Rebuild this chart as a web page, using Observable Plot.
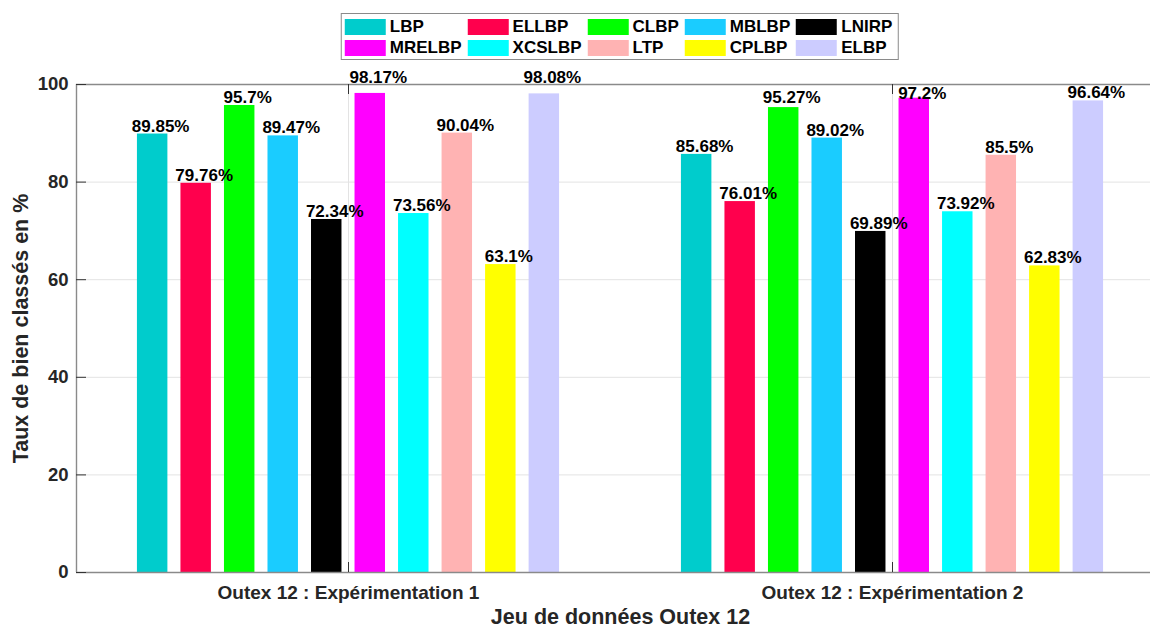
<!DOCTYPE html>
<html>
<head>
<meta charset="utf-8">
<script src="https://cdn.jsdelivr.net/npm/d3@7"></script>
<script src="https://cdn.jsdelivr.net/npm/@observablehq/plot@0.6"></script>
<style>
  html, body { margin: 0; padding: 0; background: #fff; }
  body { width: 1150px; height: 630px; overflow: hidden; font-family: "Liberation Sans", Arial, sans-serif; }
  #wrap { position: relative; width: 1150px; }
  #legendArea { position: relative; height: 66px; }
  #legend {
    position: absolute; left: 620px; top: 13px; transform: translateX(-50%);
    border: 1.5px solid #8a8a8a; background: #fff;
    display: grid; grid-template-columns: repeat(5, auto);
    padding: 4px 0 3px 3px; row-gap: 4px;
  }
  .item { display: flex; align-items: center; padding-right: 6px; height: 17px; }
  .sw { width: 41px; height: 16px; margin-right: 4px; }
  .lab { font-weight: bold; font-size: 17px; color: #000; line-height: 17px; white-space: nowrap; }
</style>
</head>
<body>
<div id="wrap">
  <div id="legendArea"><div id="legend"></div></div>
  <div id="chart"></div>
</div>
<script>
// ---- data ----
const methods = ["LBP", "ELLBP", "CLBP", "MBLBP", "LNIRP", "MRELBP", "XCSLBP", "LTP", "CPLBP", "ELBP"];
const colors = ["#00CCCC", "#FF004D", "#00FF00", "#1ACCFF", "#000000", "#FF00FF", "#00FFFF", "#FFB3B3", "#FFFF00", "#CCCCFF"];
const groups = ["Outex 12 : Expérimentation 1", "Outex 12 : Expérimentation 2"];
const exp1 = [89.85, 79.76, 95.7, 89.47, 72.34, 98.17, 73.56, 90.04, 63.1, 98.08];
const exp2 = [85.68, 76.01, 95.27, 89.02, 69.89, 97.2, 73.92, 85.5, 62.83, 96.64];
const yTicks = [0, 20, 40, 60, 80, 100];
const yLabel = "Taux de bien classés en %";
const xLabel = "Jeu de données Outex 12";

// ---- layout ----
const W = 1150, H = 564;
const marginTop = 18, marginBottom = 58, marginLeft = 76;
const xDomain = [0.5, 2.5];
const xRange = [76, 1164];
const barStep = 0.08, barWidth = 0.056;
const unitPx = (xRange[1] - xRange[0]) / (xDomain[1] - xDomain[0]);
const yPx = (H - marginTop - marginBottom) / 100;
const tickLen = 10;
// extra vertical nudge (px) of a few value labels, as placed in the original figure
const labelNudge = {"0|MRELBP": -8, "0|ELBP": -8, "1|MRELBP": 3, "1|CLBP": -2};

const series = [exp1, exp2];
const rows = [];
groups.forEach((g, gi) => {
  methods.forEach((m, mi) => {
    rows.push({group: g, gi, method: m, mi, value: series[gi][mi],
      cx: gi + 1 + (mi - (methods.length - 1) / 2) * barStep});
  });
});

// legend
const legend = document.getElementById("legend");
for (let r = 0; r < 2; r++) for (let c = 0; c < 5; c++) {
  const i = r * 5 + c;
  const it = document.createElement("div");
  it.className = "item";
  const sw = document.createElement("div");
  sw.className = "sw"; sw.style.background = colors[i];
  const lb = document.createElement("span");
  lb.className = "lab"; lb.textContent = methods[i];
  it.appendChild(sw); it.appendChild(lb);
  legend.appendChild(it);
}

const axisColor = "#8a8a8a";
const gridColor = "#e3e3e3";
const tickColor = "#333333";
const textColor = "#262626";
const ff = "Liberation Sans, Arial, sans-serif";

const chart = Plot.plot({
  width: W, height: H,
  marginTop, marginBottom, marginLeft, marginRight: 0,
  x: {domain: xDomain, range: xRange, axis: null},
  y: {domain: [0, 100], axis: null},
  color: {domain: methods, range: colors},
  style: {fontFamily: ff, overflow: "visible"},
  marks: [
    // grid
    Plot.ruleY(yTicks.filter(d => d > 0 && d < 100), {stroke: gridColor, strokeWidth: 1}),
    Plot.ruleX([1, 2], {y1: 0, y2: 100, stroke: gridColor, strokeWidth: 1}),
    // bars
    Plot.rectY(rows, {x1: d => d.cx - barWidth / 2, x2: d => d.cx + barWidth / 2, y: "value", fill: "method"}),
    // axes box
    Plot.ruleY([0, 100], {stroke: axisColor, strokeWidth: 1.4}),
    Plot.ruleX([xDomain[0]], {y1: 0, y2: 100, stroke: axisColor, strokeWidth: 1.4}),
    // inward ticks
    Plot.ruleY(yTicks, {x1: xDomain[0], x2: xDomain[0] + tickLen / unitPx, stroke: tickColor, strokeWidth: 1}),
    Plot.ruleX([1, 2], {y1: 0, y2: tickLen / yPx, stroke: tickColor, strokeWidth: 1}),
    Plot.ruleX([1, 2], {y1: 100 - tickLen / yPx, y2: 100, stroke: tickColor, strokeWidth: 1}),
    // tick labels
    Plot.text(yTicks, {x: xDomain[0], y: d => d, text: d => String(d), textAnchor: "end", dx: -8,
      fontSize: 18.5, fontWeight: "bold", fill: textColor}),
    Plot.text(groups, {x: (d, i) => i + 1, y: 0, text: d => d, dy: 20,
      fontSize: 19, fontWeight: "bold", fill: textColor}),
    // axis labels
    Plot.text([yLabel], {x: xDomain[0], y: 50, text: d => d, rotate: -90, dx: -55,
      fontSize: 21.5, fontWeight: "bold", fill: textColor}),
    Plot.text([xLabel], {x: (xDomain[0] + xDomain[1]) / 2, y: 0, text: d => d, dy: 45,
      fontSize: 21.5, fontWeight: "bold", fill: textColor}),
    // value labels
    Plot.text(rows, {x: "cx", y: d => d.value + ((labelNudge[d.gi + "|" + d.method] || 0) / yPx) * -1 + 0,
      text: d => String(d.value) + "%", lineAnchor: "bottom",
      dx: 8, dy: -2.5, fontSize: 17, fontWeight: "bold", fill: "#000"})
  ]
});
document.getElementById("chart").appendChild(chart);
</script>
</body>
</html>
